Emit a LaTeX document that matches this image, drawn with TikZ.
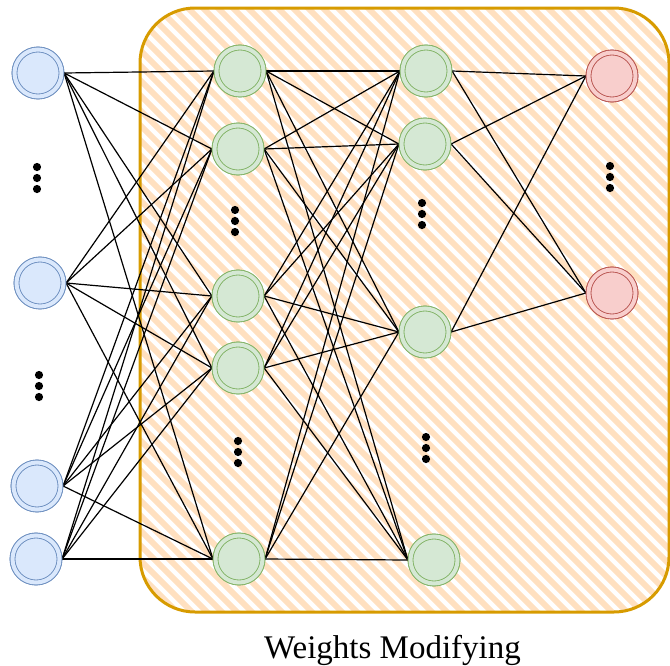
\documentclass[tikz,border=0pt]{standalone}
\usepackage{fontspec}
\setmainfont{Liberation Serif}
\definecolor{hatch}{HTML}{FFE0C0}
\definecolor{frameline}{HTML}{D79B00}
\definecolor{inFill}{HTML}{DAE8FC}
\definecolor{inLine}{HTML}{6C8EBF}
\definecolor{hidFill}{HTML}{D5E8D4}
\definecolor{hidLine}{HTML}{82B366}
\definecolor{outFill}{HTML}{F8CECC}
\definecolor{outLine}{HTML}{B85450}
\tikzset{
  neuron/.style 2 args={circle, minimum size=47pt, inner sep=0pt, outer sep=2.6pt,
    line width=0.9pt, draw=#2, fill=#1, double=#1, double distance=4pt},
  innode/.style={neuron={inFill}{inLine}},
  hidnode/.style={neuron={hidFill}{hidLine}},
  outnode/.style={neuron={outFill}{outLine}},
  wire/.style={line width=1.2pt, black},
  vdots/.pic={
    \fill (0,-11) circle (4.1);
    \fill (0,0) circle (4.1);
    \fill (0,11) circle (4.1);
  }
}
\begin{document}
\begin{tikzpicture}[x=1pt,y=-1pt]
\useasboundingbox (0,0) rectangle (670,665);

% hatched region holding the trainable layers
\begin{scope}
  \clip[rounded corners=55pt] (140,8) rectangle (669,612);
  \fill[white] (140,8) rectangle (669,612);
  \foreach \s in {-480,-465,...,680} {
    \draw[hatch, line width=5.8pt] (\s,0) -- (\s+620,620);
  }
\end{scope}
\draw[frameline, line width=3pt, rounded corners=55pt] (140,8) rectangle (669,612);

% input layer
\node[innode] (i1) at (38,73) {};
\node[innode] (i2) at (40,283) {};
\node[innode] (i3) at (37,486) {};
\node[innode] (i4) at (36,559) {};

% first hidden layer
\node[hidnode] (h1) at (240,71) {};
\node[hidnode] (h2) at (238,149) {};
\node[hidnode] (h3) at (238,296) {};
\node[hidnode] (h4) at (238,368) {};
\node[hidnode] (h5) at (239,559) {};

% second hidden layer
\node[hidnode] (g1) at (426,71) {};
\node[hidnode] (g2) at (425,144) {};
\node[hidnode] (g3) at (425,332) {};
\node[hidnode] (g4) at (434,560) {};

% output layer
\node[outnode] (o1) at (612,76) {};
\node[outnode] (o2) at (612,293) {};

% connections
\foreach \a in {i1,i2,i3,i4} {
  \foreach \b in {h1,h2,h3,h4,h5} {
    \draw[wire] (\a.east) -- (\b.west);
  }
}
\foreach \a in {h1,h2,h3,h4,h5} {
  \foreach \b in {g1,g2,g3,g4} {
    \draw[wire] (\a.east) -- (\b.west);
  }
}
\foreach \a in {g1,g2,g3} {
  \foreach \b in {o1,o2} {
    \draw[wire] (\a.east) -- (\b.west);
  }
}

% redraw neurons above the wires
\foreach \n in {i1,i2,i3,i4} { \node[innode] at (\n) {}; }
\foreach \n in {h1,h2,h3,h4,h5,g1,g2,g3,g4} { \node[hidnode] at (\n) {}; }
\foreach \n in {o1,o2} { \node[outnode] at (\n) {}; }

% ellipses for omitted neurons
\pic at (37,178) {vdots};
\pic at (39,386) {vdots};
\pic at (235,221) {vdots};
\pic at (238,452) {vdots};
\pic at (422,214) {vdots};
\pic at (426,448) {vdots};
\pic at (610,177) {vdots};

\node[anchor=base, font=\fontsize{33}{38}\selectfont, inner sep=0pt] (cap) at (392.5,658) {Weights Modifying};
\end{tikzpicture}
\end{document}
